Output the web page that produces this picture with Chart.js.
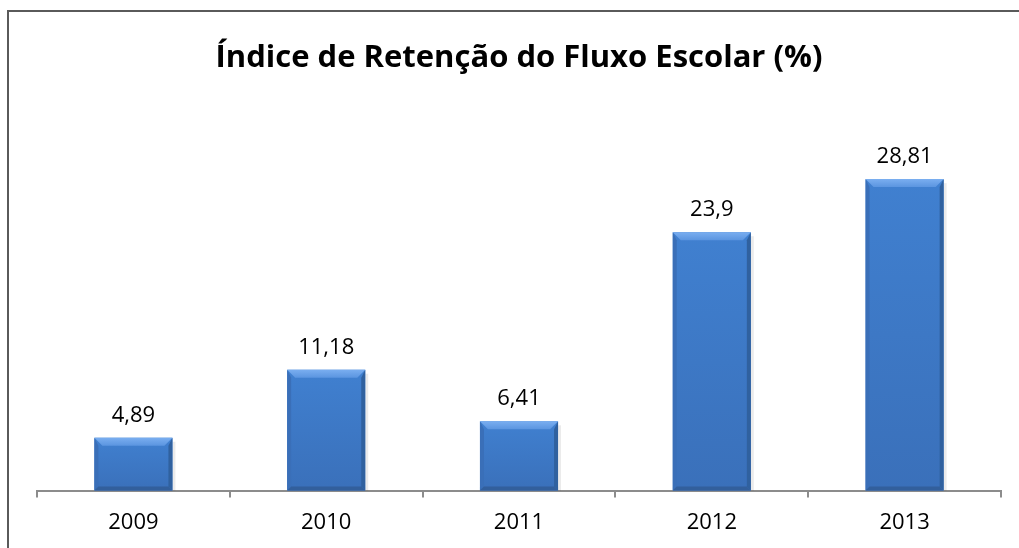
<!DOCTYPE html>
<html>
<head>
<meta charset="utf-8">
<script src="https://cdn.jsdelivr.net/npm/chart.js@4.4.0/dist/chart.umd.min.js"></script>
<style>
  body { margin: 0; background: #fff; }
  #frame {
    position: absolute; left: 7px; top: 10px; width: 1100px; height: 600px;
    border-left: 2px solid #5a5a5a; border-top: 2px solid #5a5a5a;
  }
  #wrap { position: absolute; left: 0; top: 0; width: 1019px; height: 548px; }
</style>
</head>
<body>
<div id="frame"></div>
<div id="wrap"><canvas id="chart"></canvas></div>
<script>
const years = ['2009', '2010', '2011', '2012', '2013'];
const retention = [4.89, 11.18, 6.41, 23.9, 28.81];

// bevelled bar look (like the office chart style)
const bevelBars = {
    id: 'bevelBars',
    afterDatasetsDraw(chart) {
        const ctx = chart.ctx;
        const meta = chart.getDatasetMeta(0);
        meta.data.forEach(bar => {
            const w = bar.width;
            const l = bar.x - w / 2, r = bar.x + w / 2;
            const t = bar.y, b = bar.base;
            const d = Math.min(8, (b - t) / 2);
            const s = Math.min(4, (b - t) / 2);
            ctx.save();
            // soft shadow on right
            ctx.fillStyle = 'rgba(0,0,0,0.08)';
            ctx.fillRect(r, t + 4, 3, b - t - 4);
            // main face
            const g = ctx.createLinearGradient(0, t, 0, b);
            g.addColorStop(0, '#4080d0');
            g.addColorStop(1, '#3a70ba');
            ctx.fillStyle = g;
            ctx.fillRect(l, t, w, b - t);
            // left bevel
            ctx.fillStyle = '#3a6fb8';
            ctx.beginPath();
            ctx.moveTo(l, t); ctx.lineTo(l + s, t + d); ctx.lineTo(l + s, b - s); ctx.lineTo(l, b); ctx.closePath();
            ctx.fill();
            // right bevel
            ctx.fillStyle = '#30619f';
            ctx.beginPath();
            ctx.moveTo(r, t); ctx.lineTo(r - s, t + d); ctx.lineTo(r - s, b - s); ctx.lineTo(r, b); ctx.closePath();
            ctx.fill();
            // bottom bevel
            ctx.fillStyle = '#325f9c';
            ctx.beginPath();
            ctx.moveTo(l, b); ctx.lineTo(l + s, b - s); ctx.lineTo(r - s, b - s); ctx.lineTo(r, b); ctx.closePath();
            ctx.fill();
            // top bevel
            const tg = ctx.createLinearGradient(0, t, 0, t + d);
            tg.addColorStop(0, '#7aaef0');
            tg.addColorStop(1, '#5b95e0');
            ctx.fillStyle = tg;
            ctx.beginPath();
            ctx.moveTo(l, t); ctx.lineTo(r, t); ctx.lineTo(r - d, t + d); ctx.lineTo(l + d, t + d); ctx.closePath();
            ctx.fill();
            ctx.restore();
        });
    }
};

const valueLabels = {
    id: 'valueLabels',
    afterDatasetsDraw(chart) {
        const ctx = chart.ctx;
        const meta = chart.getDatasetMeta(0);
        ctx.save();
        ctx.font = '22px "Open Sans", sans-serif';
        ctx.fillStyle = '#000';
        ctx.textAlign = 'center';
        ctx.textBaseline = 'alphabetic';
        meta.data.forEach((bar, i) => {
            ctx.fillText(String(retention[i]).replace('.', ','), bar.x, bar.y - 16);
        });
        ctx.restore();
    }
};

Chart.register(bevelBars, valueLabels);

new Chart(document.getElementById('chart'), {
    type: 'bar',
    data: {
        labels: years,
        datasets: [{
            data: retention,
            backgroundColor: 'rgba(0,0,0,0)',
            barPercentage: 0.405,
            categoryPercentage: 1
        }]
    },
    options: {
        responsive: true,
        maintainAspectRatio: false,
        animation: false,
        layout: { padding: { left: 37, right: 18, top: 40, bottom: 0 } },
        plugins: {
            legend: { display: false },
            tooltip: { enabled: false },
            title: {
                display: true,
                text: 'Índice de Retenção do Fluxo Escolar (%)',
                color: '#000',
                font: { family: '"Open Sans", sans-serif', size: 31, weight: 'bold' },
                padding: { top: 0, bottom: 35 }
            }
        },
        scales: {
            x: {
                grid: {
                    display: true,
                    drawOnChartArea: false,
                    drawTicks: true,
                    tickLength: 7,
                    color: '#8c8c8c',
                    lineWidth: 2
                },
                border: { display: true, color: '#8c8c8c', width: 2 },
                ticks: {
                    color: '#000',
                    padding: 12,
                    font: { family: '"Open Sans", sans-serif', size: 22 }
                }
            },
            y: {
                display: false,
                min: 0,
                max: 35
            }
        }
    }
});
</script>
</body>
</html>
